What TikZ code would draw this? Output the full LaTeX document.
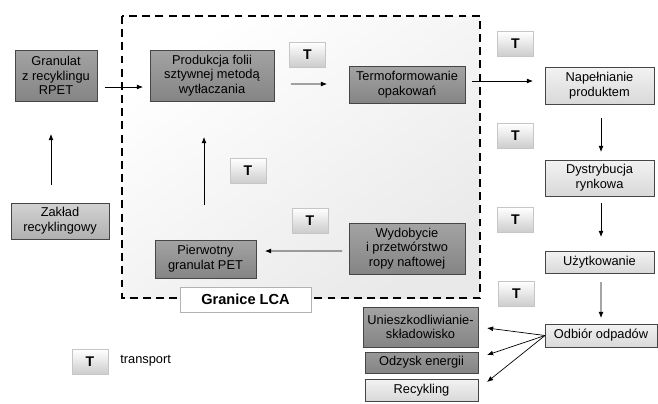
\documentclass[tikz,border=0pt]{standalone}
\usepackage{fontspec}
\setmainfont{Liberation Sans}
\usepackage{tikz}
\usetikzlibrary{calc,arrows.meta}
\tikzset{
  box/.style={
    draw=gray!55!black, align=center, inner sep=1pt, outer sep=0pt,
    font=\fontsize{7.3}{8.4}\selectfont
  },
  sz/.style 2 args={minimum width=#1cm, minimum height=#2cm},
  darkbox/.style={box, top color=gray!72, bottom color=gray!96},
  midbox/.style={box, top color=gray!80, bottom color=gray!96},
  greybox/.style={box, top color=gray!35, bottom color=gray!62},
  lightbox/.style={box, top color=gray!10, bottom color=gray!30},
  tbox/.style={
    draw=gray!45, top color=white, bottom color=gray!40,
    minimum width=0.72cm, minimum height=0.5cm, outer sep=0pt,
    font=\fontsize{8}{9}\selectfont\bfseries
  },
  arr/.style={-{Latex[length=3.5pt,width=2.8pt]}, thin}
}

\begin{document}
\begin{tikzpicture}[x=0.02cm,y=-0.02cm]
  \useasboundingbox (0,0) rectangle (658,403);

  % LCA boundary
  \shade[top color=white, bottom color=gray!17, shading angle=35]
    (122,16) rectangle (480,298);
  \draw[line width=1.1pt, dash pattern=on 4.5pt off 3pt]
    (122,16) rectangle (480,298);

  \node[darkbox,sz={1.64}{1.02}] (granulat) at (56,75.5)
    {Granulat\\z recyklingu\\RPET};
  \node[darkbox,sz={2.48}{1.02}] (produkcja) at (212,75.5)
    {Produkcja folii\\sztywnej metodą\\wytłaczania};
  \node[darkbox,sz={2.32}{0.74}] (termo) at (407,84.5)
    {Termoformowanie\\opakowań};
  \node[darkbox,sz={2.32}{1.02}] (wydobycie) at (407,248.5)
    {Wydobycie\\i przetwórstwo\\ropy naftowej};
  \node[darkbox,sz={2.02}{0.76}] (pierwotny) at (205.5,259)
    {Pierwotny\\granulat PET};
  \node[greybox,sz={1.96}{0.72}] (zaklad) at (60,221)
    {Zakład\\recyklingowy};

  \node[lightbox,sz={2.18}{0.74}] (napelnianie) at (599.5,85.5)
    {Napełnianie\\produktem};
  \node[lightbox,sz={2.18}{0.72}] (dystrybucja) at (599.5,178)
    {Dystrybucja\\rynkowa};
  \node[lightbox,sz={2.18}{0.44}] (uzytkowanie) at (599.5,262)
    {Użytkowanie};
  \node[lightbox,sz={2.24}{0.46}] (odbior) at (601,335.5)
    {Odbiór odpadów};

  \node[darkbox,sz={2.30}{0.80}] (unieszk) at (420.5,327)
    {Unieszkodliwianie-\\składowisko};
  \node[midbox,sz={2.26}{0.42}] (odzysk) at (421.5,362.5)
    {Odzysk energii};
  \node[lightbox,sz={2.26}{0.44}] (recykling) at (421.5,390)
    {Recykling};

  \node[draw=gray!60, fill=white, sz={2.62}{0.50}, outer sep=0pt,
    font=\fontsize{8.3}{9}\selectfont\bfseries] (granice) at (245.5,299.5)
    {Granice LCA};

  % transport markers
  \node[tbox] (t1) at (307.5,54.5) {T};
  \node[tbox] (t2) at (515.5,44) {T};
  \node[tbox] (t3) at (515.5,136) {T};
  \node[tbox] (t4) at (248,171) {T};
  \node[tbox] (t5) at (310,220.5) {T};
  \node[tbox] (t6) at (515.5,220) {T};
  \node[tbox] (t7) at (516.5,294) {T};
  \node[tbox] (legend) at (90,362) {T};
  \node[anchor=west, inner sep=0pt, font=\fontsize{7.3}{8.4}\selectfont]
    (legendtxt) at (120,361) {transport};

  \draw[arr] ($(zaklad.north)+(-9,-18)$) -- ($(granulat.south)+(-5,33)$);
  \draw[arr] ($(granulat.east)+(8,11.5)$) -- ($(produkcja.west)+(-7,11.5)$);
  \draw[arr] ($(produkcja.east)+(17,8.5)$) -- ($(termo.west)+(-22,-0.5)$);
  \draw[arr] ($(termo.east)+(7,-3.5)$) -- ($(napelnianie.west)+(-12,-4.5)$);
  \draw[arr] ($(pierwotny.north)+(-1.5,-35)$) -- ($(produkcja.south)+(-8,36)$);
  \draw[arr] ($(wydobycie.west)+(-7,2.5)$) -- ($(pierwotny.east)+(9,-8)$);
  \draw[arr] ($(napelnianie.south)+(1.5,14)$) -- ($(dystrybucja.north)+(1.5,-8)$);
  \draw[arr] ($(dystrybucja.south)+(1.5,7)$) -- ($(uzytkowanie.north)+(1.5,-14)$);
  \draw[arr] ($(uzytkowanie.south)+(1.5,9)$) -- ($(odbior.north)+(0,-6)$);
  \draw[arr] (odbior.west) -- ($(unieszk.east)+(9,1)$);
  \draw[arr] (odbior.west) -- ($(odzysk.east)+(9,-7.5)$);
  \draw[arr] (odbior.west) -- ($(recykling.east)+(9,-8)$);
\end{tikzpicture}
\end{document}
